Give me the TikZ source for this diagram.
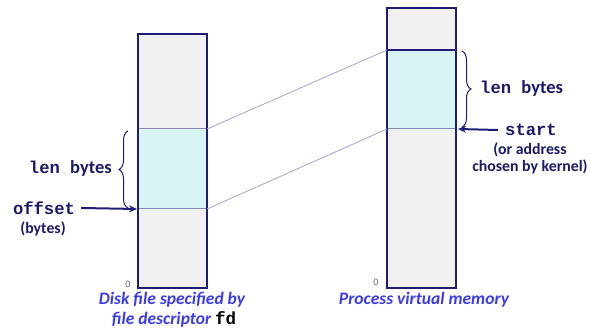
\documentclass[tikz,border=0pt]{standalone}
\usepackage{fontspec}
\setmainfont{Carlito}
\newfontfamily\cour{Liberation Mono}
\usetikzlibrary{arrows.meta,decorations.pathreplacing}
\definecolor{navy}{HTML}{1F1C78}
\definecolor{txtnavy}{HTML}{1A1A6A}
\definecolor{capblue}{HTML}{3A3AEE}
\definecolor{colgray}{HTML}{F1F1F1}
\definecolor{colcyan}{HTML}{D8F4F4}
\definecolor{linkline}{HTML}{A3A3D3}
\definecolor{softedge}{HTML}{8585B8}
\tikzset{
  colbox/.style={draw=navy, fill=colgray, line width=1.1pt},
  cyanbox/.style={draw=softedge, fill=colcyan, line width=1pt},
  link/.style={draw=linkline, line width=0.8pt},
  lbl/.style={text=txtnavy, font=\fontsize{18.5}{21}\selectfont\bfseries, inner sep=0pt},
  monolbl/.style={text=txtnavy, font=\fontsize{17.2}{20}\selectfont\bfseries\cour, inner sep=0pt},
  small/.style={text=txtnavy, font=\fontsize{15.8}{18}\selectfont\bfseries, inner sep=0pt},
  zero/.style={text=txtnavy!70, font=\fontsize{10}{12}\selectfont, inner sep=0pt},
  captext/.style={text=capblue, font=\fontsize{17.5}{20}\selectfont\bfseries\itshape, inner sep=0pt},
  bracestyle/.style={draw=navy, line width=1pt, decorate},
  ptr/.style={draw=navy, line width=2pt, -{Stealth[length=8pt,width=7pt]}}
}
\begin{document}
\begin{tikzpicture}[x=1pt,y=1pt]
\useasboundingbox (0,0) rectangle (590,-328);
% left column
\coordinate (Ltl) at (138,-34);
\coordinate (Lbr) at (207,-288);
\draw[colbox] (Ltl) rectangle (Lbr);
\coordinate (Lct) at (138,-129);
\coordinate (Lcb) at (207,-209);
\draw[cyanbox] (Lct) rectangle (Lcb);
\draw[navy, line width=1.1pt] (Ltl) rectangle (Lbr);
% right column
\coordinate (Rtl) at (387,-8);
\coordinate (Rbr) at (456,-288);
\draw[colbox] (Rtl) rectangle (Rbr);
\coordinate (Rct) at (387,-50);
\coordinate (Rcb) at (456,-129);
\draw[cyanbox] (Rct) rectangle (Rcb);
\draw[navy, line width=1.1pt] (Rtl) rectangle (Rbr);
\draw[navy, line width=1.1pt] (Rct) -- (Rct -| Rbr);
% links
\coordinate (Lup) at (207,-129);
\coordinate (Ldn) at (207,-209);
\coordinate (Rup) at (387,-50);
\coordinate (Rdn) at (387,-129);
\draw[link] (Lup) -- (Rup);
\draw[link] (Ldn) -- (Rdn);
% left labels
\coordinate (lb1) at (128,-208);
\coordinate (lb2) at (128,-131);
\draw[bracestyle, decoration={brace, amplitude=9pt}] (lb1) -- (lb2);
\node[lbl, anchor=east] (llen) at (112,-168) {{\fontsize{17.2}{20}\selectfont\cour len }bytes};
\node[monolbl] (off) at (44,-208) {offset};
\coordinate (offtip) at (137,-209);
\draw[ptr] (off.east) ++(6,0) -- (offtip);
\node[small] (offb) at (43,-229) {(bytes)};
% right labels
\coordinate (rb1) at (462,-51);
\coordinate (rb2) at (462,-127);
\draw[bracestyle, decoration={brace, amplitude=9pt}] (rb1) -- (rb2);
\node[lbl, anchor=west] (rlen) at (480,-88) {{\fontsize{17.2}{20}\selectfont\cour len }bytes};
\node[monolbl] (start) at (531,-130) {start};
\coordinate (starttip) at (458,-129);
\draw[ptr] (start.west) ++(-7,0) -- (starttip);
\node[small] (ora) at (530,-150) {(or address};
\node[small] (chk) at (530,-167) {chosen by kernel)};
% zeros
\node[zero] (z1) at (128,-284) {0};
\node[zero] (z2) at (376,-282) {0};
% captions
\node[captext] (c1) at (172,-300) {Disk file specified by};
\node[captext] (c2) at (174,-319) {file descriptor {\upshape\color{black}\cour fd}};
\node[captext] (c3) at (424,-300) {Process virtual memory};
\end{tikzpicture}
\end{document}
